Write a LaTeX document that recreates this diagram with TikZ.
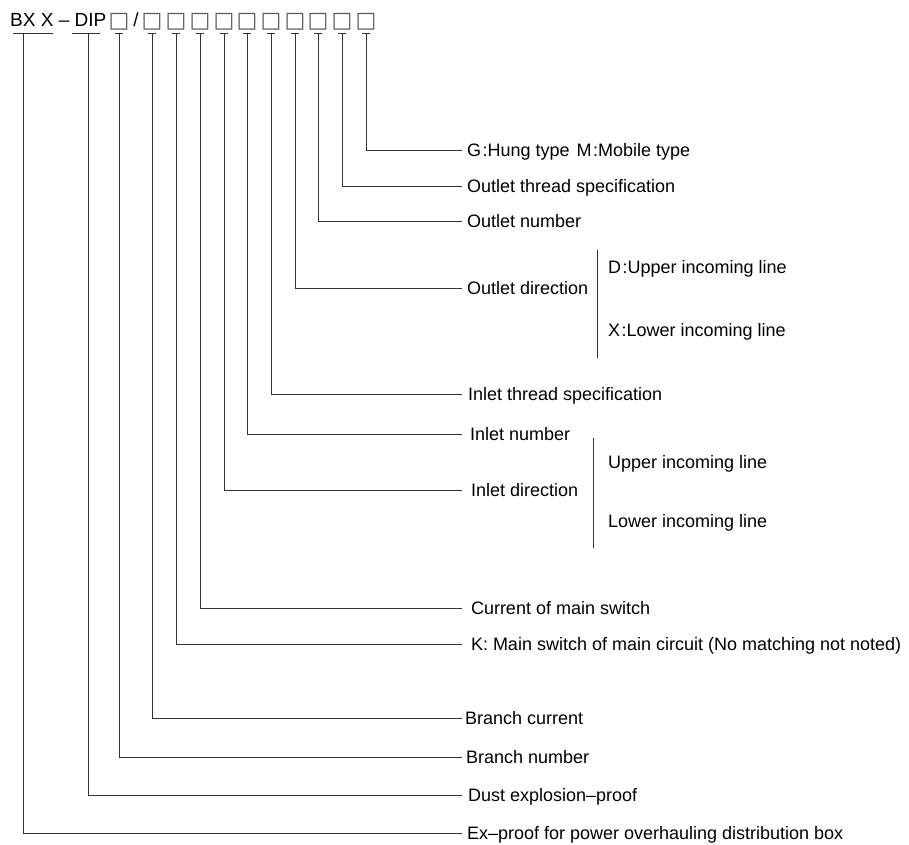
\documentclass[tikz,border=0pt]{standalone}
\usepackage{fontspec}
\setmainfont{Liberation Sans}
\newfontfamily\symfont{DejaVu Sans}
\begin{document}
\begin{tikzpicture}[x=1pt,y=-1pt,
  ln/.style={draw=black!80, line width=0.9pt},
  lbl/.style={anchor=west, inner xsep=5pt, inner ysep=0pt, outer sep=0pt, text height=13pt, text depth=0pt, font=\fontsize{18}{20}\selectfont},
  sub/.style={anchor=base west, inner sep=0pt, font=\fontsize{18}{20}\selectfont},
  bx/.style={anchor=base, inner sep=0pt, font=\fontsize{22}{22}\symfont, text=black!65},
  ttl/.style={anchor=base west, inner sep=0pt, font=\fontsize{19}{20}\selectfont},
]
\useasboundingbox (0,0) rectangle (909,844);

% code line
\node[ttl] (title) at (10,26.5) {BX X – DIP};
\node[bx] (b0) at (119,27.5) {□};
\node[ttl, anchor=base] (slash) at (136,26.5) {/};
\node[bx] (b1) at (152,27.5) {□};
\node[bx] (b2) at (176,27.5) {□};
\node[bx] (b3) at (200,27.5) {□};
\node[bx] (b4) at (224,27.5) {□};
\node[bx] (b5) at (247,27.5) {□};
\node[bx] (b6) at (271,27.5) {□};
\node[bx] (b7) at (295,27.5) {□};
\node[bx] (b8) at (318,27.5) {□};
\node[bx] (b9) at (342,27.5) {□};
\node[bx] (b10) at (366,27.5) {□};

% T tops
\coordinate (tEX) at (23,33.5);
\coordinate (tDE) at (88,33.5);
\coordinate (tBN) at (119,33.5);
\coordinate (tBC) at (152,33.5);
\coordinate (tK)  at (176,33.5);
\coordinate (tCM) at (200,33.5);
\coordinate (tID) at (224,33.5);
\coordinate (tIN) at (247,33.5);
\coordinate (tIT) at (271,33.5);
\coordinate (tOD) at (295,33.5);
\coordinate (tON) at (318,33.5);
\coordinate (tOT) at (342,33.5);
\coordinate (tG)  at (366,33.5);

% T bars
\draw[ln] (13,33.5) -- (53,33.5);
\draw[ln] (72,33.5) -- (100,33.5);
\foreach \c in {tBN,tBC,tK,tCM,tID,tIN,tIT,tOD,tON,tOT,tG}
  \draw[ln] ([xshift=-4pt]\c) -- ([xshift=4pt]\c);

% labels
\node[lbl] (lG)  at (462,150) {G\kern1.5pt:Hung type\hspace{7pt}M\kern1.5pt:Mobile type};
\node[lbl] (lOT) at (462,186) {Outlet thread specification};
\node[lbl] (lON) at (462,221) {Outlet number};
\node[lbl] (lOD) at (462,288) {Outlet direction};
\node[lbl, inner xsep=6pt] (lIT) at (462,394) {Inlet thread specification};
\node[lbl, inner xsep=8pt] (lIN) at (462,434) {Inlet number};
\node[lbl, inner xsep=9pt] (lID) at (462,490) {Inlet direction};
\node[lbl, inner xsep=9pt] (lCM) at (462,608) {Current of main switch};
\node[lbl, inner xsep=9pt] (lK)  at (462,644) {K: Main switch of main circuit (No matching not noted)};
\node[lbl, inner xsep=3pt] (lBC) at (462,718) {Branch current};
\node[lbl, inner xsep=4pt] (lBN) at (462,757) {Branch number};
\node[lbl, inner xsep=6pt] (lDE) at (462,795) {Dust explosion–proof};
\node[lbl, inner xsep=5pt] (lEX) at (462,833) {Ex–proof for power overhauling distribution box};

% leaders
\foreach \n in {G,OT,ON,OD,IT,IN,ID,CM,K,BC,BN,DE,EX}
  \draw[ln] (t\n) |- (l\n.west);

% sub options
\node[sub] (oD) at (608,273.5) {D\kern1.5pt:Upper incoming line};
\node[sub] (oX) at (608,336.5) {X\kern1.5pt:Lower incoming line};
\node[sub] (iU) at (608,468.5) {Upper incoming line};
\node[sub] (iL) at (608,527.5) {Lower incoming line};
\draw[ln] (597,250) -- (597,358);
\draw[ln] (593,438) -- (593,548);
\end{tikzpicture}
\end{document}
